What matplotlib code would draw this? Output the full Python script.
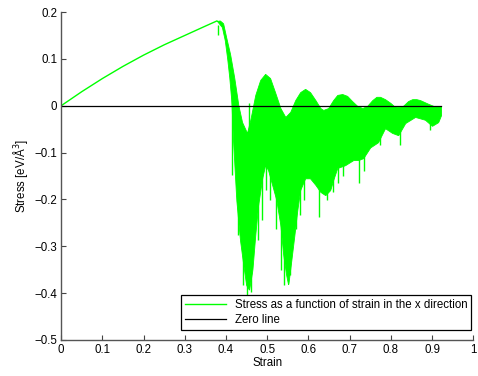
import numpy as np
import matplotlib
matplotlib.use("Agg")
import matplotlib.pyplot as plt

plt.rcParams['font.family'] = ['Liberation Sans', 'DejaVu Sans']

# -------------------------
# Data
# -------------------------
# elastic part (smooth rise)
strain_elastic = [0.0, 0.05, 0.10, 0.15, 0.20, 0.25, 0.30, 0.35, 0.378]
stress_elastic = [0.0, 0.030, 0.058, 0.084, 0.108, 0.130, 0.150, 0.170, 0.181]

# upper edge of the oscillating band
strain_upper = [0.378, 0.385, 0.393, 0.401, 0.410, 0.420, 0.430, 0.439, 0.451, 0.459,
                0.471, 0.483, 0.495, 0.507, 0.519, 0.532, 0.544, 0.556, 0.568, 0.580,
                0.592, 0.604, 0.617, 0.629, 0.636, 0.648, 0.660, 0.670, 0.682, 0.694,
                0.706, 0.718, 0.731, 0.743, 0.755, 0.765, 0.774, 0.786, 0.799, 0.808,
                0.818, 0.830, 0.842, 0.852, 0.862, 0.871, 0.881, 0.891, 0.905, 0.922]
stress_upper = [0.181, 0.182, 0.176, 0.144, 0.110, 0.060, 0.001, -0.035, -0.058, -0.030,
                0.023, 0.055, 0.068, 0.059, 0.029, -0.005, -0.024, -0.013, 0.012, 0.029,
                0.036, 0.029, 0.012, -0.005, -0.009, -0.005, 0.012, 0.023, 0.025, 0.021,
                0.010, 0.000, -0.005, 0.000, 0.012, 0.019, 0.019, 0.014, 0.006, -0.001,
                -0.003, 0.000, 0.010, 0.014, 0.014, 0.012, 0.008, 0.004, -0.001, -0.001]

# lower edge of the oscillating band
strain_lower = [0.378, 0.390, 0.397, 0.403, 0.408, 0.413, 0.417, 0.425, 0.434, 0.442,
                0.449, 0.456, 0.464, 0.471, 0.478, 0.488, 0.495, 0.502, 0.512, 0.522,
                0.532, 0.539, 0.546, 0.551, 0.558, 0.566, 0.573, 0.580, 0.592, 0.604,
                0.617, 0.629, 0.641, 0.653, 0.660, 0.670, 0.689, 0.709, 0.721, 0.733,
                0.750, 0.769, 0.786, 0.803, 0.818, 0.835, 0.859, 0.883, 0.900, 0.915,
                0.922]
stress_lower = [0.181, 0.168, 0.140, 0.100, 0.060, 0.010, -0.073, -0.201, -0.287, -0.340,
                -0.383, -0.393, -0.351, -0.276, -0.212, -0.154, -0.127, -0.137, -0.169, -0.201,
                -0.255, -0.319, -0.361, -0.383, -0.334, -0.276, -0.223, -0.180, -0.155, -0.155,
                -0.169, -0.184, -0.191, -0.180, -0.159, -0.133, -0.127, -0.116, -0.116, -0.112,
                -0.089, -0.078, -0.048, -0.058, -0.063, -0.037, -0.024, -0.030, -0.043, -0.035,
                -0.020]

# isolated spikes below the band: (strain, minimum stress)
spike_strain = [0.381, 0.415, 0.429, 0.442, 0.451, 0.460, 0.478, 0.488, 0.497, 0.507,
                0.522, 0.534, 0.541, 0.556, 0.570, 0.580, 0.590, 0.626, 0.646, 0.660,
                0.672, 0.685, 0.723, 0.735, 0.774, 0.823, 0.896]
spike_low = [0.152, -0.148, -0.276, -0.383, -0.415, -0.398, -0.287, -0.244, -0.180, -0.201,
             -0.263, -0.351, -0.383, -0.362, -0.263, -0.234, -0.201, -0.238, -0.201, -0.185,
             -0.165, -0.150, -0.165, -0.140, -0.084, -0.084, -0.052]
spike_up_strain = [0.456]
spike_up_high = [0.006]

zero_strain = [0.0, 0.922]
zero_stress = [0.0, 0.0]

# -------------------------
# Plot
# -------------------------
fig = plt.figure(figsize=(4.78, 3.76), dpi=100)
ax = fig.add_axes([0.128, 0.096, 0.862, 0.872])

green = '#00ff00'
ax.plot(strain_elastic, stress_elastic, color=green, lw=1.0,
        label='Stress as a function of strain in the x direction')

# dense oscillation drawn as a band between the two edges
xs = np.linspace(0.378, 0.922, 600)
up = np.interp(xs, strain_upper, stress_upper)
lo = np.interp(xs, strain_lower, stress_lower)
ax.fill_between(xs, lo, up, color=green, lw=0.6, edgecolor=green)
ax.vlines(spike_strain, spike_low,
          np.interp(spike_strain, strain_upper, stress_upper) - 0.01,
          color=green, lw=1.0)
ax.vlines(spike_up_strain, -0.06, spike_up_high, color=green, lw=1.0)

ax.plot(zero_strain, zero_stress, color='black', lw=0.9, label='Zero line')

ax.set_xlim(0, 1)
ax.set_ylim(-0.5, 0.2)
ax.set_xticks(np.arange(0, 1.01, 0.1))
ax.set_xticklabels(['0', '0.1', '0.2', '0.3', '0.4', '0.5', '0.6', '0.7', '0.8', '0.9', '1'])
ax.set_yticks(np.arange(-0.5, 0.21, 0.1))
ax.set_yticklabels(['\u22120.5', '\u22120.4', '\u22120.3', '\u22120.2', '\u22120.1', '0', '0.1', '0.2'])
ax.tick_params(direction='in', length=3.5, width=0.8, color='#444444', labelsize=8.3, pad=3)
for side in ['top', 'right']:
    ax.spines[side].set_visible(False)
for side in ['left', 'bottom']:
    ax.spines[side].set_color('#555555')
    ax.spines[side].set_linewidth(1.0)

ax.set_xlabel('Strain', fontsize=8.3, labelpad=1)
ax.set_ylabel('Stress [eV/\u00c5$^{3}$]', fontsize=8.3, labelpad=3)

leg = ax.legend(loc='lower right', bbox_to_anchor=(0.995, 0.03), fontsize=8.3,
                frameon=True, fancybox=False, handlelength=3.6, borderpad=0.35,
                labelspacing=0.25, handletextpad=0.7, borderaxespad=0.0)
leg.get_frame().set_edgecolor('black')
leg.get_frame().set_linewidth(0.9)
leg.get_frame().set_alpha(1)

fig.savefig('out.png', dpi=100)
